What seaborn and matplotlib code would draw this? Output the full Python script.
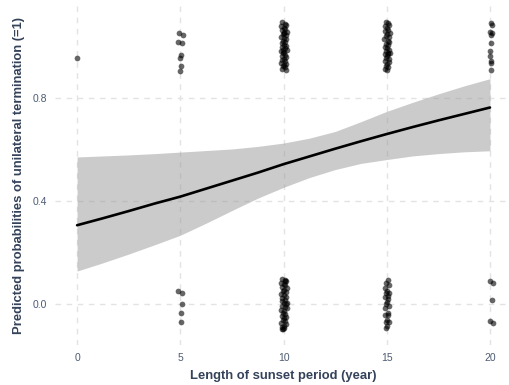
#####################################################################
# imports
import matplotlib
matplotlib.use('Agg')
import matplotlib.pyplot as plt
import seaborn as sns
from pandas import DataFrame

#####################################################################
# data

# fitted probability and 95% band, read at steps of 1.25 years
fit_x = [0, 1.25, 2.5, 3.75, 5, 6.25, 7.5, 8.75, 10,
         11.25, 12.5, 13.75, 15, 16.25, 17.5, 18.75, 20]
fit_y = [0.305, 0.332, 0.360, 0.389, 0.416, 0.447, 0.478, 0.509, 0.542,
         0.572, 0.602, 0.631, 0.659, 0.686, 0.712, 0.737, 0.762]
fit_lo = [0.127, 0.159, 0.193, 0.229, 0.266, 0.313, 0.362, 0.410, 0.452,
          0.490, 0.521, 0.545, 0.560, 0.574, 0.583, 0.590, 0.594]
fit_hi = [0.570, 0.574, 0.578, 0.583, 0.589, 0.595, 0.601, 0.611, 0.624,
          0.643, 0.669, 0.707, 0.747, 0.782, 0.815, 0.846, 0.874]

# jittered observations (outcome 1 drawn near 1, outcome 0 near 0)
top0_x = [0.0]
top0_y = [0.955]

top5_x = [4.95, 5.15, 4.9, 5.1, 5.05, 5.0, 5.05, 5.0]
top5_y = [1.052, 1.045, 1.017, 1.013, 0.967, 0.955, 0.922, 0.905]

bot5_x = [4.9, 5.07, 5.07, 5.03, 5.03]
bot5_y = [0.048, 0.041, -0.001, -0.036, -0.070]

top10_x = [9.95, 10.05, 10.12, 9.90, 10.00, 10.08, 9.93, 10.15, 10.02, 9.97,
           10.10, 9.88, 10.04, 10.13, 9.96, 10.07, 9.91, 10.00, 10.11, 9.94,
           10.06, 10.16, 9.89, 10.03, 9.98, 10.09, 9.92, 10.14, 10.01, 9.95,
           10.07, 9.90, 10.12, 10.00, 9.96, 10.05, 9.93, 10.10, 9.99, 10.04]
top10_y = [1.094, 1.088, 1.083, 1.079, 1.072, 1.068, 1.061, 1.057, 1.052, 1.046,
           1.043, 1.037, 1.031, 1.028, 1.022, 1.016, 1.011, 1.006, 1.001, 0.997,
           0.992, 0.986, 0.981, 0.977, 0.973, 0.967, 0.962, 0.957, 0.951, 0.947,
           0.942, 0.936, 0.931, 0.927, 0.922, 0.918, 0.913, 0.909, 0.985, 1.050]

bot10_x = [9.94, 10.08, 10.13, 9.90, 10.02, 10.06, 9.92, 10.15, 10.00, 9.97,
           10.10, 9.89, 10.04, 10.12, 9.95, 10.07, 9.91, 10.01, 10.11, 9.93,
           10.05, 10.16, 9.88, 10.03, 9.98, 10.09, 9.92, 10.14, 10.00, 9.96,
           10.06, 9.90, 10.12, 10.01, 9.95, 10.04, 9.91, 10.18, 9.99, 10.06]
bot10_y = [0.097, 0.093, 0.088, 0.082, 0.078, 0.071, 0.066, 0.061, 0.055, 0.049,
           0.044, 0.038, 0.033, 0.027, 0.021, 0.016, 0.011, 0.004, -0.002, -0.007,
           -0.013, -0.018, -0.024, -0.029, -0.035, -0.041, -0.046, -0.052, -0.057, -0.063,
           -0.068, -0.074, -0.079, -0.085, -0.090, -0.095, -0.099, 0.002, -0.097, 0.090]

top15_x = [14.95, 15.05, 15.12, 14.90, 15.00, 15.08, 14.93, 15.14, 15.02, 14.97,
           15.10, 14.89, 15.04, 15.13, 14.96, 15.07, 14.91, 15.00, 15.11, 14.94,
           15.06, 15.15, 14.90, 15.03, 14.98, 15.09, 14.92, 15.12, 15.01, 14.95,
           15.07, 14.93, 15.00, 15.05]
top15_y = [1.095, 1.089, 1.083, 1.077, 1.071, 1.064, 1.058, 1.052, 1.046, 1.041,
           1.034, 1.028, 1.022, 1.015, 1.010, 1.004, 0.998, 0.992, 0.986, 0.981,
           0.975, 0.972, 0.968, 0.961, 0.956, 0.950, 0.944, 0.938, 0.931, 0.925,
           0.919, 0.913, 0.907, 0.970]

bot15_x = [15.05, 14.98, 15.10, 14.92, 15.03, 15.12, 14.95, 15.06, 14.90, 15.08,
           15.00, 14.96, 15.11, 14.93, 15.04, 15.07, 14.91, 15.02, 14.97, 15.09,
           14.94, 15.00]
bot15_y = [0.093, 0.080, 0.074, 0.060, 0.050, 0.041, 0.040, 0.029, 0.028, 0.018,
           0.006, 0.001, -0.010, -0.018, -0.037, -0.042, -0.044, -0.063, -0.069, -0.072,
           -0.094, -0.085]

top20_x = [20.05, 20.10, 20.00, 20.08, 20.03, 20.05, 19.98, 20.02, 20.07, 20.04, 20.06]
top20_y = [1.090, 1.083, 1.057, 1.051, 1.045, 1.012, 0.980, 0.961, 0.941, 0.935, 0.909]

bot20_x = [20.00, 20.15, 20.10, 20.00, 20.15]
bot20_y = [0.087, 0.080, 0.013, -0.066, -0.075]

# axis texts
x_ticks = [0, 5, 10, 15, 20]
y_ticks = [0.0, 0.4, 0.8]
y_tick_labels = ['0.0', '0.4', '0.8']
x_title = 'Length of sunset period (year)'
y_title = 'Predicted probabilities of unilateral termination (=1)'


#####################################################################
# plotting

def build_points() -> DataFrame:
    xs = (top0_x + top5_x + bot5_x + top10_x + bot10_x
          + top15_x + bot15_x + top20_x + bot20_x)
    ys = (top0_y + top5_y + bot5_y + top10_y + bot10_y
          + top15_y + bot15_y + top20_y + bot20_y)
    return DataFrame({'x': xs, 'y': ys})


def plot_fit() -> None:
    sns.set_style('white')
    plt.rcParams['font.family'] = ['Liberation Sans', 'DejaVu Sans']

    fig = plt.figure(figsize=(5.09, 3.85), dpi=100)
    ax = fig.add_axes([55 / 509, 40 / 385, 455.6 / 509, 340 / 385])

    fit = DataFrame({'x': fit_x, 'y': fit_y, 'lo': fit_lo, 'hi': fit_hi})

    # confidence band and fitted line
    ax.fill_between(fit['x'], fit['lo'], fit['hi'],
                    color='#999999', alpha=0.5, linewidth=0, zorder=2)
    sns.lineplot(data=fit, x='x', y='y', ax=ax, color='black',
                 linewidth=1.9, zorder=3)

    # jittered observations
    sns.scatterplot(data=build_points(), x='x', y='y', ax=ax,
                    color='black', alpha=0.6, s=17, linewidth=0, zorder=4)

    ax.set_xlim(-1.07, 21.0)
    ax.set_ylim(-0.16, 1.16)
    ax.set_xticks(x_ticks)
    ax.set_yticks(y_ticks)
    ax.set_yticklabels(y_tick_labels)
    ax.grid(True, color='#e3e3e3', linestyle=(0, (4, 4)), linewidth=1.0, zorder=0)
    ax.set_axisbelow(True)
    for side in ax.spines.values():
        side.set_visible(False)
    ax.tick_params(length=0, labelsize=7.5, labelcolor='#4d5b73', pad=6)

    ax.set_xlabel(x_title, fontsize=9.4, fontweight='bold', color='#34425a', labelpad=5)
    ax.set_ylabel(y_title, fontsize=9.4, fontweight='bold', color='#34425a', labelpad=5)

    fig.savefig('out.png', dpi=100)
    plt.close(fig)


if __name__ == '__main__':
    plot_fit()
